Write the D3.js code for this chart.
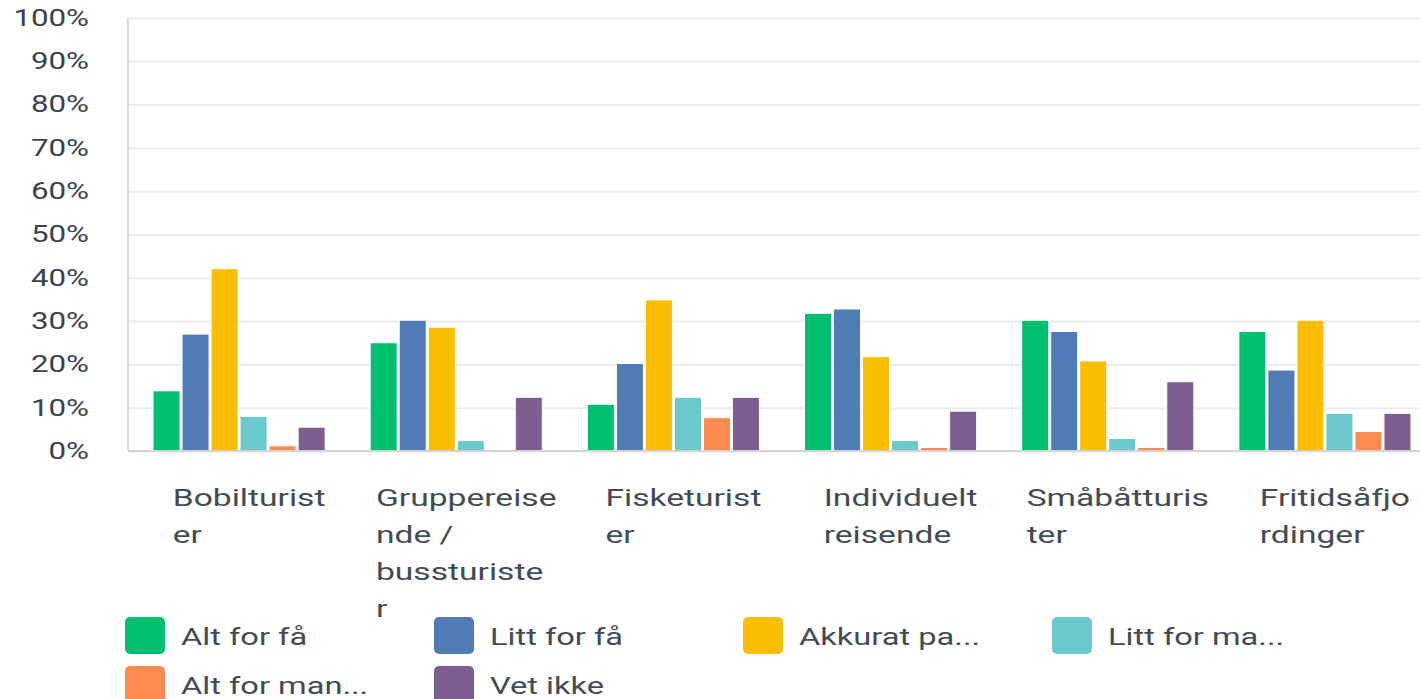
<!DOCTYPE html>
<html>
<head>
<meta charset="utf-8">
<script src="https://cdn.jsdelivr.net/npm/d3@7"></script>
<style>
  html, body { margin: 0; padding: 0; background: #fff; overflow: hidden; }
  #chart text { font-family: Roboto, "Noto Sans", sans-serif; }
</style>
</head>
<body>
<div id="chart"></div>
<script>
// data (percent)
const categories = ["Bobilturister", "Gruppereisende / bussturister", "Fisketurister",
    "Individuelt reisende", "Småbåtturister", "Fritidsåfjordinger"];
const seriesNames = ["Alt for få", "Litt for få", "Akkurat passe", "Litt for mange", "Alt for mange", "Vet ikke"];
const legendLabels = ["Alt for få", "Litt for få", "Akkurat pa...", "Litt for ma...", "Alt for man...", "Vet ikke"];
const colors = ["#00bf6f", "#507cb6", "#f9be00", "#6bc8cd", "#ff8b4f", "#7d5e90"];

const altForFa     = [13.9, 25.0, 10.8, 31.8, 30.2, 27.6];
const littForFa    = [27.0, 30.2, 20.2, 32.8, 27.6, 18.7];
const akkuratPasse = [42.1, 28.6, 34.9, 21.8, 20.8, 30.2];
const littForMange = [8.0, 2.4, 12.4, 2.4, 2.9, 8.7];
const altForMange  = [1.2, 0, 7.7, 0.8, 0.8, 4.5];
const vetIkke      = [5.5, 12.4, 12.4, 9.2, 16.0, 8.7];
const seriesValues = [altForFa, littForFa, akkuratPasse, littForMange, altForMange, vetIkke];

const yTicks = [0, 10, 20, 30, 40, 50, 60, 70, 80, 90, 100];

const W = 1420, H = 699;
const SX = 1.36; // text in the picture is stretched horizontally
const plotLeft = 128, plotTop = 18, plotBottom = 451;

const svg = d3.select("#chart").append("svg")
    .attr("width", W).attr("height", H);

const x0 = d3.scaleBand().domain(categories).range([130.5, 1433.5]);
const x1 = d3.scaleBand().domain(seriesNames).range([0, x0.bandwidth()])
    .paddingInner(0.069).paddingOuter(0.776);
const y = d3.scaleLinear().domain([0, 100]).range([plotBottom, plotTop]);

// gridlines
svg.append("g")
    .attr("transform", `translate(${plotLeft},0)`)
    .call(d3.axisLeft(y).tickValues(yTicks).tickSize(-(W - plotLeft)).tickFormat(""))
    .call(g => g.select(".domain").remove())
    .call(g => g.selectAll("line").attr("stroke", "#ececec").attr("stroke-width", 2));

// left axis line
svg.append("line")
    .attr("x1", plotLeft).attr("x2", plotLeft)
    .attr("y1", y(100)).attr("y2", y(0))
    .attr("stroke", "#dadada").attr("stroke-width", 2);

// y labels
const yAxis = svg.append("g")
    .attr("transform", "translate(89,0)")
    .call(d3.axisLeft(y).tickValues(yTicks).tickSize(0).tickPadding(0).tickFormat(d => d + "%"));
yAxis.select(".domain").remove();
yAxis.selectAll("text")
    .attr("x", 0)
    .attr("transform", `scale(${SX},1)`)
    .attr("fill", "#3a434c")
    .style("font-size", "23px");

// bars
const rows = categories.map((c, i) => ({
    cat: c,
    vals: seriesNames.map((s, j) => ({ s: s, v: seriesValues[j][i], j: j }))
}));

svg.append("g").selectAll("g")
    .data(rows)
    .join("g")
    .attr("transform", d => `translate(${x0(d.cat)},0)`)
    .selectAll("rect")
    .data(d => d.vals.filter(e => e.v > 0))
    .join("rect")
    .attr("x", d => x1(d.s))
    .attr("y", d => y(d.v))
    .attr("width", x1.bandwidth())
    .attr("height", d => y(0) - y(d.v))
    .attr("fill", d => colors[d.j])
    .attr("stroke", "#fff")
    .attr("stroke-width", 1);

// baseline
svg.append("line")
    .attr("x1", plotLeft).attr("x2", W)
    .attr("y1", y(0)).attr("y2", y(0))
    .attr("stroke", "#d4d4d4").attr("stroke-width", 2);

// category labels, wrapped like the original (11 characters per line)
function wrapLabel(text, maxChars) {
    const lines = [];
    let cur = "";
    text.split(" ").forEach(w => {
        const trial = cur ? cur + " " + w : w;
        if (trial.length <= maxChars) { cur = trial; return; }
        if (cur) lines.push(cur);
        cur = w;
        while (cur.length > maxChars) {
            lines.push(cur.slice(0, maxChars));
            cur = cur.slice(maxChars);
        }
    });
    if (cur) lines.push(cur);
    return lines;
}

const LX = 1.4;
categories.forEach(c => {
    const lines = wrapLabel(c, 11);
    const g = svg.append("g");
    const t = g.append("text")
        .attr("fill", "#434b53")
        .style("font-size", "24px");
    lines.forEach((ln, k) => {
        t.append("tspan").attr("x", 0).attr("y", k * 37).text(ln);
    });
    let maxW = 0;
    t.selectAll("tspan").each(function() { maxW = Math.max(maxW, this.getComputedTextLength()); });
    const cx = x0(c) + x0.bandwidth() / 2;
    const left = cx - maxW * LX / 2 + 10;
    g.attr("transform", `translate(${left},506) scale(${LX},1)`);
});

// legend
const legend = svg.append("g").attr("transform", "translate(125,617)");
const item = legend.selectAll("g")
    .data(legendLabels)
    .join("g")
    .attr("transform", (d, i) => `translate(${(i % 4) * 309},${Math.floor(i / 4) * 49})`);
item.append("rect")
    .attr("width", 40).attr("height", 37).attr("rx", 5)
    .attr("fill", (d, i) => colors[i]);
item.append("text")
    .attr("transform", `translate(56,28) scale(${SX},1)`)
    .attr("fill", "#434b53")
    .style("font-size", "24px")
    .text(d => d);
</script>
</body>
</html>
